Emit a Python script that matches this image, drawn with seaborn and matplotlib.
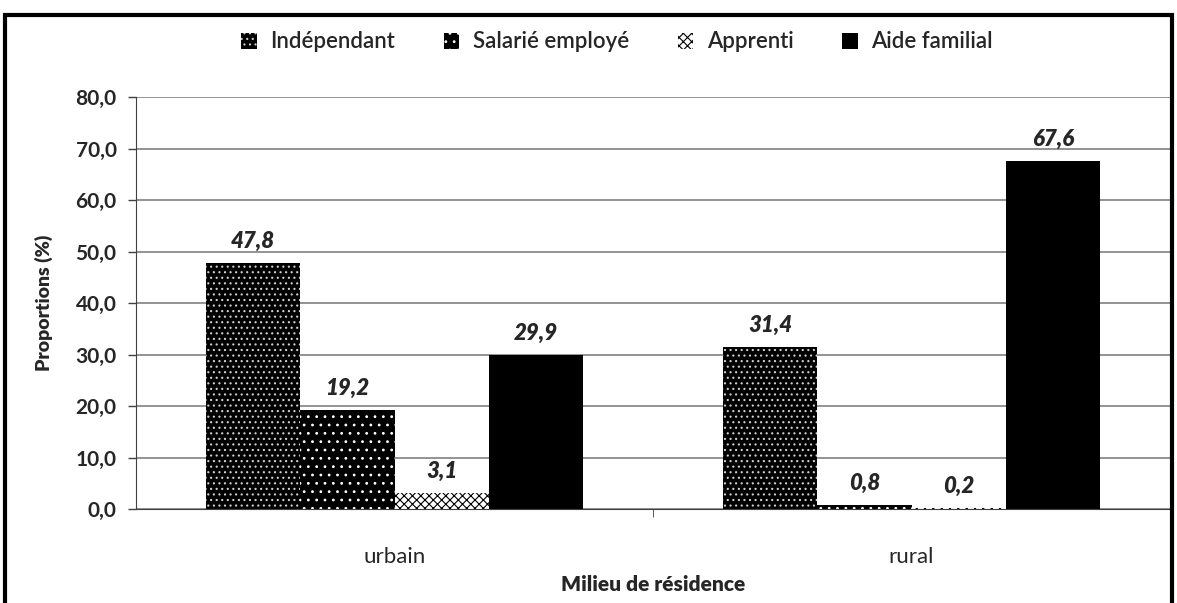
import matplotlib
matplotlib.use("Agg")
import matplotlib.pyplot as plt
import seaborn as sns
import pandas as pd
from matplotlib.patches import Rectangle, Patch
from matplotlib.ticker import FuncFormatter, FixedLocator

milieux = ["urbain", "rural"]
statuts = ["Indépendant", "Salarié employé", "Apprenti", "Aide familial"]
urbain = [47.8, 19.2, 3.1, 29.9]
rural = [31.4, 0.8, 0.2, 67.6]

rows = []
for m, vals in zip(milieux, [urbain, rural]):
    for s, v in zip(statuts, vals):
        rows.append({"Milieu": m, "Statut": s, "Valeur": v})
df = pd.DataFrame(rows)

sns.set_style("white")
plt.rcParams['font.family'] = ['Lato', 'DejaVu Sans']
plt.rcParams['hatch.linewidth'] = 0.8

fig = plt.figure(figsize=(11.77, 6.03), dpi=100)
ax = fig.add_axes([136/1177, 1-509/603, (1170-136)/1177, (509-97)/603])

sns.barplot(data=df, x="Milieu", y="Valeur", hue="Statut", order=milieux,
            hue_order=statuts, palette=["black"]*4, width=0.73, ax=ax,
            legend=False, errorbar=None, saturation=1)

styles = {
    "Indépendant": dict(facecolor="black", edgecolor="#d0d0d0", hatch="...", lw=0),
    "Salarié employé": dict(facecolor="black", edgecolor="white", hatch="..", lw=0),
    "Apprenti": dict(facecolor="white", edgecolor="black", hatch="xxxx", lw=0),
    "Aide familial": dict(facecolor="black", edgecolor="black", hatch=None, lw=0),
}

for container, s in zip(ax.containers, statuts):
    st = styles[s]
    for bar in container:
        bar.set_facecolor(st["facecolor"])
        bar.set_edgecolor(st["edgecolor"])
        bar.set_linewidth(st["lw"])
        if st["hatch"]:
            bar.set_hatch(st["hatch"])
    labels = [f"{v:.1f}".replace(".", ",") for v in container.datavalues]
    ax.bar_label(container, labels=labels, padding=8, fontsize=16,
                 fontweight="heavy", fontstyle="italic")

ax.set_ylim(0, 80)
ax.yaxis.set_major_locator(FixedLocator([0, 10, 20, 30, 40, 50, 60, 70, 80]))
ax.yaxis.set_major_formatter(FuncFormatter(lambda v, p: f"{v:.1f}".replace(".", ",")))
ax.grid(axis="y", color="#808080", lw=1.2)
ax.set_axisbelow(True)
for sp in ["top", "right"]:
    ax.spines[sp].set_visible(False)
ax.spines["left"].set_color("#404040")
ax.spines["bottom"].set_color("#404040")
ax.tick_params(axis="y", left=True, length=6, width=1, color="#404040",
               labelsize=15, pad=8)
for t in ax.get_yticklabels():
    t.set_fontweight("bold")
ax.tick_params(axis="x", bottom=False, labelsize=16, pad=24)
ax.set_xticks([0, 1])
ax.set_xticks([0.5], minor=True)
ax.tick_params(axis="x", which="minor", bottom=True, length=6, color="#404040")
ax.set_xlim(-0.5, 1.5)

ax.set_xlabel("Milieu de résidence", fontsize=15, fontweight="heavy")
ax.xaxis.set_label_coords(0.5, -66/412)
ax.set_ylabel("Proportions (%)", fontsize=14, fontweight="heavy", labelpad=16)

handles = []
for s in statuts:
    st = styles[s]
    handles.append(Patch(facecolor=st["facecolor"], edgecolor=st["edgecolor"],
                         hatch=st["hatch"], lw=0, label=s))
leg = fig.legend(handles=handles, loc="center", bbox_to_anchor=(617/1177, 1-42/603),
                 ncol=4, frameon=False, fontsize=16, handlelength=0.7,
                 handleheight=0.7, columnspacing=2.2, handletextpad=0.6)
for t in leg.get_texts():
    t.set_fontweight("semibold")

fig.patches.append(Rectangle((5/1177, -0.01), (1172-5)/1177, 1-15/603+0.01,
                             transform=fig.transFigure, fill=False,
                             edgecolor="black", lw=3))

fig.savefig("out.png", dpi=100)
